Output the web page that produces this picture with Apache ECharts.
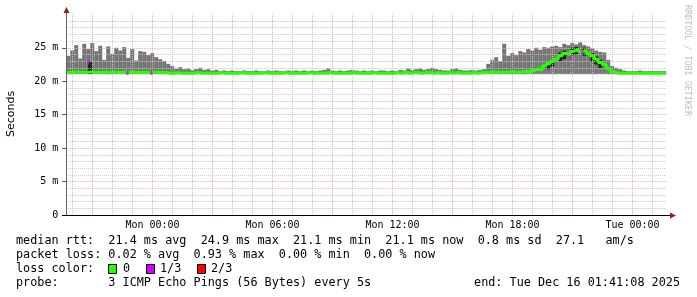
<!DOCTYPE html>
<html>
<head>
<meta charset="utf-8">
<script src="https://cdn.jsdelivr.net/npm/echarts@6/dist/echarts.min.js"></script>
<style>
html,body{margin:0;padding:0;background:#fff;}
#chart{width:697px;height:297px;}
</style>
</head>
<body>
<div id="chart"></div>
<script>
// ---- data (hours relative to Mon 00:00; end = Tue Dec 16 01:41:08 2025) ----
const xMin = -4.3144;          // Sun 19:41:08
const xMax = 25.6856;          // Tue 01:41:08
const binHours = 0.2;          // 12-minute bins
const xTickValues = [0, 6, 12, 18, 24];
const xTickLabels = ['Mon 00:00', 'Mon 06:00', 'Mon 12:00', 'Mon 18:00', 'Tue 00:00'];
const yTickValues = [0, 5, 10, 15, 20, 25];
const yTickLabels = ['0', '5 m', '10 m', '15 m', '20 m', '25 m'];

// smoke (ms): top of the grey band per bin
const smokeTop = [
 23.8,24.6,25.4,23.4,25.6,24.8,25.7,24.5,25.3,23.2,
 25.2,24.1,25.0,24.6,25.1,23.5,24.8,23.1,24.5,24.4,
 23.9,24.2,23.6,23.3,23.0,22.6,22.3,21.9,22.1,21.8,
 21.9,21.7,21.8,22.0,21.7,21.8,21.6,21.7,21.5,21.6,
 21.5,21.6,21.5,21.5,21.6,21.5,21.5,21.6,21.5,21.5,
 21.6,21.5,21.6,21.5,21.5,21.6,21.5,21.6,21.5,21.6,
 21.5,21.6,21.5,21.6,21.7,21.9,21.6,21.5,21.6,21.5,
 21.6,21.7,21.6,21.5,21.6,21.5,21.6,21.5,21.6,21.6,
 21.5,21.6,21.5,21.7,21.6,21.9,21.7,21.8,21.9,21.7,
 21.8,22.0,21.8,21.7,21.6,21.6,21.8,21.9,21.7,21.6,
 21.6,21.7,21.6,21.7,21.8,22.6,23.2,23.6,23.0,25.6,
 23.8,24.2,23.9,24.5,24.3,24.8,24.6,25.0,24.7,25.1,
 25.0,25.2,25.3,25.1,25.6,25.4,25.7,25.5,25.8,25.4,
 25.2,24.9,24.6,24.4,24.3,23.2,22.3,22.0,21.8,21.6,
 21.5,21.5,21.5,21.6,21.5,21.5,21.5,21.5,21.5,21.5
];
// smoke (ms): bottom of the grey band per bin
const smokeBottom = [
 21.1,21.1,21.1,21.1,21.1,21.1,21.1,21.1,21.1,21.1,
 21.1,21.1,21.1,21.1,21.1,21.1,21.1,21.1,21.1,21.1,
 21.1,21.1,21.1,21.1,21.1,21.1,21.1,21.1,21.1,21.1,
 21.1,21.1,21.1,21.1,21.1,21.1,21.1,21.1,21.1,21.1,
 21.1,21.1,21.1,21.1,21.1,21.1,21.1,21.1,21.1,21.1,
 21.1,21.1,21.1,21.1,21.1,21.1,21.1,21.1,21.1,21.1,
 21.1,21.1,21.1,21.1,21.1,21.1,21.1,21.1,21.1,21.1,
 21.1,21.1,21.1,21.1,21.1,21.1,21.1,21.1,21.1,21.1,
 21.1,21.1,21.1,21.1,21.1,21.1,21.1,21.1,21.1,21.1,
 21.1,21.1,21.1,21.1,21.1,21.1,21.1,21.1,21.1,21.1,
 21.1,21.1,21.1,21.1,21.1,21.1,21.1,21.1,21.1,21.1,
 21.1,21.1,21.1,21.1,21.1,21.1,21.1,21.1,21.1,21.1,
 21.1,21.1,21.1,21.1,21.1,21.1,21.1,21.1,21.1,21.1,
 21.1,21.1,21.1,21.1,21.1,21.1,21.1,21.1,21.1,21.1,
 21.1,21.1,21.1,21.1,21.1,21.1,21.1,21.1,21.1,21.1
];
// median rtt (ms) per bin
const medianRtt = [
 21.3,21.3,21.4,21.3,21.3,21.4,21.3,21.3,21.3,21.4,
 21.3,21.3,21.3,21.3,21.4,21.3,21.3,21.3,21.3,21.3,
 21.3,21.3,21.3,21.3,21.3,21.2,21.2,21.3,21.2,21.2,
 21.2,21.2,21.3,21.2,21.2,21.2,21.2,21.2,21.3,21.2,
 21.2,21.2,21.2,21.3,21.2,21.2,21.2,21.2,21.2,21.3,
 21.2,21.2,21.2,21.2,21.3,21.2,21.2,21.2,21.2,21.2,
 21.3,21.2,21.2,21.2,21.2,21.3,21.2,21.2,21.2,21.2,
 21.2,21.3,21.2,21.2,21.2,21.2,21.3,21.2,21.2,21.2,
 21.2,21.2,21.3,21.2,21.3,21.2,21.3,21.3,21.2,21.3,
 21.3,21.2,21.3,21.2,21.2,21.3,21.2,21.3,21.2,21.2,
 21.2,21.3,21.2,21.3,21.3,21.3,21.4,21.3,21.4,21.3,
 21.4,21.4,21.3,21.4,21.5,21.3,21.6,21.8,21.7,22.3,
 22.6,23.0,23.3,23.8,24.2,24.0,24.5,24.7,24.4,24.6,
 24.2,23.8,23.3,22.8,22.5,21.9,21.4,21.2,21.2,21.2,
 21.2,21.2,21.2,21.2,21.2,21.2,21.2,21.2,21.2,21.2
];
// dark smoke fragments [hour, low ms, high ms]
const darkSmoke = [
 [-3.23,21.1,22.9],
 [19.69,21.8,22.7],[19.89,22.2,23.2],[20.29,23.0,24.3],[20.49,23.3,24.6],
 [20.89,23.9,25.0],[21.09,24.0,25.1],[21.49,23.8,25.0],[21.89,22.9,24.2],
 [22.09,22.5,23.7],[22.29,22.0,23.2]
];
// 1/3 loss marks [hour, ms]
const lossThird = [[-3.2,22.8],[-1.25,21.25],[-0.05,21.25],[20.9,23.5],[21.5,24.3]];

// legend texts
const legendRtt  = 'median rtt:  21.4 ms avg  24.9 ms max  21.1 ms min  21.1 ms now  0.8 ms sd  27.1   am/s';
const legendLoss = 'packet loss: 0.02 % avg  0.93 % max  0.00 % min  0.00 % now';
const legendColorLabel = 'loss color:';
const lossColorNames = ['0', '1/3', '2/3'];
const legendProbe = 'probe:       3 ICMP Echo Pings (56 Bytes) every 5s';
const legendEnd = 'end: Tue Dec 16 01:41:08 2025';

// ---- build ----
const smokeData = smokeTop.map((t, i) => [xMin + i * binHours, smokeBottom[i], t]);
const medianData = medianRtt.map((v, i) => [xMin + i * binHours, v]);
medianData.push([xMax, medianRtt[medianRtt.length - 1]]);

function bandRenderer(color) {
  return function (params, api) {
    const x0 = api.value(0), lo = api.value(1), hi = api.value(2);
    const a = api.coord([x0, hi]);
    const b = api.coord([x0 + binHours, lo]);
    return {type: 'rect', shape: {x: a[0], y: a[1], width: b[0] - a[0], height: b[1] - a[1]},
            style: {fill: color}};
  };
}

const minorX = [], majorX = [], minorY = [], majorY = [];
for (let h = -4; h <= 25; h++) { (h % 3 === 0 ? majorX : minorX).push({xAxis: h}); }
for (let v = 1; v <= 29; v++) { (v % 5 === 0 ? majorY : minorY).push({yAxis: v}); }

const mono = 'DejaVu Sans Mono';
const fs = 11.8;
const graphics = [];
function txt(x, y, s, align) {
  graphics.push({type: 'text', x: x, y: y,
    style: {text: s, fontFamily: mono, fontSize: fs, fill: '#000', align: align || 'left', verticalAlign: 'middle'}});
}
txt(16, 241, legendRtt);
txt(16, 255, legendLoss);
txt(16, 269, legendColorLabel);
txt(123, 269, lossColorNames[0]);
txt(160, 269, lossColorNames[1]);
txt(211, 269, lossColorNames[2]);
txt(16, 283, legendProbe);
txt(680, 283, legendEnd, 'right');
[[108.5,'#26ff00'],[146.5,'#d400ff'],[197.5,'#ff0000']].forEach(b => graphics.push({
  type: 'rect', shape: {x: b[0], y: 264.5, width: 8, height: 9},
  style: {fill: b[1], stroke: '#000', lineWidth: 1}
}));
graphics.push({type: 'text', x: 11, y: 114, rotation: Math.PI / 2,
  style: {text: 'Seconds', fontFamily: 'DejaVu Sans', fontSize: 11, fill: '#000', align: 'center', verticalAlign: 'middle'}});
graphics.push({type: 'text', x: 687, y: 5, rotation: -Math.PI / 2,
  style: {text: 'RRDTOOL / TOBI OETIKER', fontFamily: mono, fontSize: 8.4, fill: '#c0c0c0', align: 'left', verticalAlign: 'middle'}});
graphics.push({type: 'line', z: 10, shape: {x1: 66.5, y1: 215, x2: 66.5, y2: 12}, style: {stroke: '#666', lineWidth: 1}});
graphics.push({type: 'line', z: 10, shape: {x1: 62, y1: 215.5, x2: 670, y2: 215.5}, style: {stroke: '#000', lineWidth: 1}});
graphics.push({type: 'polygon', z: 10, shape: {points: [[63.5,13],[69.5,13],[66.5,7]]}, style: {fill: '#9b1b1b'}});
graphics.push({type: 'polygon', z: 10, shape: {points: [[670,212.5],[670,218.5],[676,215.5]]}, style: {fill: '#9b1b1b'}});

const minorStyle = {color: '#c6c6c6', type: [1, 1], width: 1};
const majorStyle = {color: '#eeaaaa', type: [1, 1], width: 1};

const chart = echarts.init(document.getElementById('chart'), null, {renderer: 'canvas'});
chart.setOption({
  animation: false,
  backgroundColor: '#ffffff',
  grid: {left: 66.21, right: 30.79, top: 13, bottom: 82},
  xAxis: {
    type: 'value', min: xMin, max: xMax,
    axisLine: {show: false, onZero: false}, axisTick: {show: false}, splitLine: {show: false},
    axisLabel: {
      customValues: xTickValues,
      formatter: v => { const i = xTickValues.findIndex(t => Math.abs(t - v) < 1e-6); return i >= 0 ? xTickLabels[i] : ''; },
      fontFamily: mono, fontSize: 10, color: '#000', margin: 5
    }
  },
  yAxis: {
    type: 'value', min: 0, max: 30.2,
    axisLine: {show: false, onZero: false}, splitLine: {show: false},
    axisTick: {show: true, customValues: yTickValues, length: 4, lineStyle: {color: '#555'}},
    axisLabel: {
      customValues: yTickValues,
      formatter: v => { const i = yTickValues.findIndex(t => Math.abs(t - v) < 1e-6); return i >= 0 ? yTickLabels[i] : ''; },
      fontFamily: mono, fontSize: 10, color: '#000', margin: 8
    }
  },
  series: [
    {type: 'custom', name: 'smoke', z: 2, clip: true, renderItem: bandRenderer('#757575'),
     encode: {x: 0, y: [1, 2]}, data: smokeData},
    {type: 'custom', name: 'darkSmoke', z: 3, clip: true, renderItem: bandRenderer('#1e1e1e'),
     encode: {x: 0, y: [1, 2]}, data: darkSmoke},
    {type: 'line', name: 'grid', z: 4, data: [[xMin - 10, -10]], showSymbol: false, lineStyle: {opacity: 0},
     markLine: {silent: true, symbol: 'none', label: {show: false}, z: 4, animation: false,
       data: [].concat(
         minorX.map(d => Object.assign({lineStyle: minorStyle}, d)),
         minorY.map(d => Object.assign({lineStyle: minorStyle}, d)),
         majorX.map(d => Object.assign({lineStyle: majorStyle}, d)),
         majorY.map(d => Object.assign({lineStyle: majorStyle}, d))
       )}},
    {type: 'line', name: 'median', z: 6, step: 'end', showSymbol: false, clip: true,
     lineStyle: {color: '#26ff00', width: 3}, data: medianData},
    {type: 'scatter', name: 'loss 1/3', z: 7, symbol: 'rect', symbolSize: [2, 4],
     itemStyle: {color: '#d400ff'}, data: lossThird}
  ],
  graphic: graphics
});
</script>
</body>
</html>
